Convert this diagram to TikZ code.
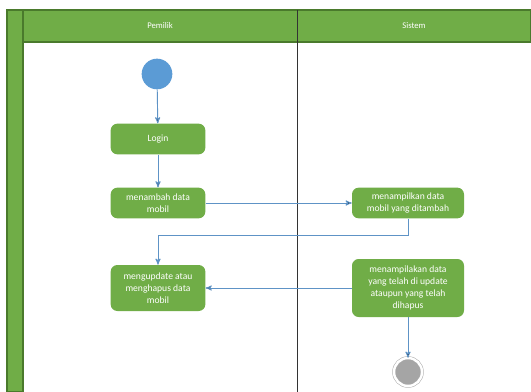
\documentclass[tikz,border=0pt]{standalone}
\usepackage{fontspec}
\setmainfont{Carlito}
\usetikzlibrary{arrows}
\definecolor{hijau}{HTML}{70AD47}
\definecolor{hijautua}{HTML}{4A7A2C}
\definecolor{biru}{HTML}{5B9BD5}
\definecolor{panah}{HTML}{5E93C6}
\definecolor{abu}{HTML}{A5A5A5}

\begin{document}
\begin{tikzpicture}[x=0.75pt,y=-0.75pt,->,>=stealth',
                    alur/.style={draw=panah,line width=0.7pt},
                    garis/.style={-,draw=hijautua,line width=0.8pt},
                    aktivitas/.style={rectangle,rounded corners=5pt,fill=hijau,
                      text=white,align=center,inner sep=0pt,
                      font=\fontsize{7.2}{9}\selectfont},
                    judul/.style={text=white,font=\fontsize{6.5}{8}\selectfont}]
  \useasboundingbox (0,0) rectangle (531,392);
  % swimlane
  \fill[white] (0,0) rectangle (531,392);
  \draw[garis,fill=hijau] (7,10) rectangle (23,392);
  \draw[garis,fill=hijau] (23,10) rectangle (531,42);
  \draw[-,draw=black!80,line width=0.6pt] (297,10) -- (297,392);
  \node [judul] (pemilik) at (160,26) {Pemilik};
  \node [judul] (sistem)  at (414,26) {Sistem};
  % aktivitas
  \node [circle,fill=biru,minimum size=23pt,inner sep=0pt] (mulai) at (157,74) {};
  \node [aktivitas,minimum width=71pt,minimum height=23pt] (login) at (158,139) {Login};
  \node [aktivitas,minimum width=71pt,minimum height=23pt] (tambah) at (158,203)
        {menambah data\\mobil};
  \node [aktivitas,minimum width=84pt,minimum height=23pt] (tampil1) at (408,203)
        {menampilkan data\\mobil yang ditambah};
  \node [aktivitas,minimum width=71pt,minimum height=34.5pt] (ubah) at (158,288)
        {mengupdate atau\\menghapus data\\mobil};
  \node [aktivitas,minimum width=84pt,minimum height=43.5pt] (tampil2) at (408,288)
        {menampilakan data\\yang telah di update\\ataupun yang telah\\dihapus};
  \node [circle,fill=abu,draw=abu!90,double=white,double distance=1.8pt,
         minimum size=21pt,inner sep=0pt] (selesai) at (408,372) {};
  \coordinate (belok) at (408,235);
  % alur
  \path [alur] (mulai) edge (login)
               (login) edge (tambah)
               (tambah) edge (tampil1)
               (tampil2) edge (ubah)
               (tampil2) edge (selesai);
  \draw [alur] (tampil1.south) -- (belok) -| (ubah.north);
\end{tikzpicture}
\end{document}
